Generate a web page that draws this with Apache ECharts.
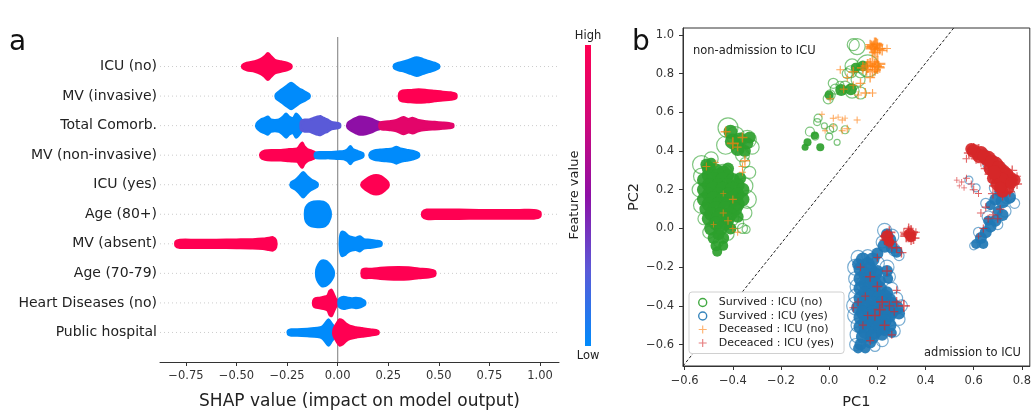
<!DOCTYPE html>
<html>
<head>
<meta charset="utf-8">
<script src="https://cdn.jsdelivr.net/npm/echarts@6/dist/echarts.min.js"></script>
<style>
html, body { margin: 0; padding: 0; background: #fff; }
#chart { width: 1034px; height: 415px; }
</style>
</head>
<body>
<div id="chart"></div>
<script>
// ---- panel a: SHAP summary (features top to bottom)
const features = ['ICU (no)', 'MV (invasive)', 'Total Comorb.', 'MV (non-invasive)', 'ICU (yes)',
  'Age (80+)', 'MV (absent)', 'Age (70-79)', 'Heart Diseases (no)', 'Public hospital']
const shapTicks = [-0.75, -0.5, -0.25, 0, 0.25, 0.5, 0.75, 1.0]

// swarm outline of each feature: [feature value 0..1, [[shap value, half spread in rows], ...]]
const swarmIcuNo = [
  [1, [[-0.47, 0.05], [-0.45, 0.12], [-0.41, 0.17], [-0.38, 0.25], [-0.36, 0.35], [-0.345, 0.45], [-0.33, 0.35], [-0.31, 0.22], [-0.28, 0.17], [-0.25, 0.12], [-0.23, 0.05]]],
  [0, [[0.28, 0.06], [0.30, 0.12], [0.33, 0.17], [0.36, 0.24], [0.39, 0.31], [0.42, 0.25], [0.45, 0.18], [0.48, 0.12], [0.50, 0.05]]]
]
const swarmMvInvasive = [
  [0, [[-0.305, 0.06], [-0.29, 0.15], [-0.27, 0.25], [-0.25, 0.35], [-0.23, 0.44], [-0.21, 0.35], [-0.19, 0.25], [-0.17, 0.18], [-0.155, 0.12], [-0.14, 0.05]]],
  [1, [[0.305, 0.1], [0.32, 0.18], [0.36, 0.2], [0.40, 0.22], [0.44, 0.2], [0.48, 0.17], [0.52, 0.14], [0.56, 0.12], [0.585, 0.07]]]
]
const swarmComorb = [
  [0, [[-0.40, 0.07], [-0.38, 0.2], [-0.36, 0.25], [-0.345, 0.3], [-0.33, 0.2], [-0.31, 0.18], [-0.29, 0.2], [-0.27, 0.3], [-0.255, 0.4], [-0.24, 0.3], [-0.22, 0.25], [-0.205, 0.4], [-0.19, 0.3], [-0.175, 0.15]]],
  [0.25, [[-0.18, 0.15], [-0.16, 0.2], [-0.14, 0.2], [-0.12, 0.25], [-0.10, 0.3], [-0.085, 0.32], [-0.07, 0.26], [-0.05, 0.2], [-0.03, 0.12], [0.01, 0.06]]],
  [0.5, [[0.05, 0.08], [0.07, 0.18], [0.09, 0.25], [0.11, 0.3], [0.14, 0.28], [0.17, 0.22], [0.19, 0.15], [0.21, 0.1]]],
  [0.85, [[0.21, 0.1], [0.25, 0.14], [0.29, 0.18], [0.325, 0.28], [0.35, 0.22], [0.37, 0.26], [0.40, 0.18], [0.44, 0.14], [0.48, 0.12], [0.52, 0.1], [0.55, 0.08], [0.57, 0.05]]]
]
const swarmMvNonInvasive = [
  [1, [[-0.38, 0.07], [-0.36, 0.15], [-0.32, 0.17], [-0.28, 0.17], [-0.24, 0.2], [-0.2, 0.22], [-0.185, 0.35], [-0.175, 0.42], [-0.165, 0.3], [-0.15, 0.2], [-0.13, 0.15], [-0.11, 0.08]]],
  [0, [[-0.11, 0.08], [-0.08, 0.1], [-0.04, 0.1], [0.0, 0.12], [0.03, 0.13], [0.05, 0.2], [0.063, 0.3], [0.075, 0.2], [0.1, 0.13], [0.125, 0.06]]],
  [0, [[0.16, 0.07], [0.18, 0.15], [0.21, 0.18], [0.24, 0.2], [0.27, 0.22], [0.29, 0.28], [0.31, 0.22], [0.34, 0.18], [0.37, 0.14], [0.40, 0.06]]]
]
const swarmIcuYes = [
  [0, [[-0.23, 0.07], [-0.21, 0.15], [-0.19, 0.28], [-0.17, 0.42], [-0.15, 0.28], [-0.13, 0.17], [-0.11, 0.1], [-0.10, 0.05]]],
  [1, [[0.12, 0.06], [0.14, 0.18], [0.165, 0.28], [0.19, 0.32], [0.215, 0.28], [0.235, 0.18], [0.25, 0.07]]]
]
const swarmAge80 = [
  [0, [[-0.16, 0.15], [-0.15, 0.3], [-0.13, 0.4], [-0.10, 0.43], [-0.07, 0.42], [-0.05, 0.32], [-0.04, 0.18], [-0.035, 0.08]]],
  [1, [[0.42, 0.08], [0.44, 0.15], [0.5, 0.15], [0.6, 0.15], [0.7, 0.14], [0.8, 0.14], [0.9, 0.14], [0.97, 0.14], [1.0, 0.08]]]
]
const swarmMvAbsent = [
  [1, [[-0.80, 0.08], [-0.78, 0.13], [-0.7, 0.13], [-0.6, 0.13], [-0.5, 0.14], [-0.42, 0.15], [-0.37, 0.17], [-0.34, 0.2], [-0.32, 0.22], [-0.305, 0.12]]],
  [0, [[0.012, 0.2], [0.02, 0.4], [0.035, 0.38], [0.05, 0.28], [0.07, 0.22], [0.09, 0.2], [0.11, 0.25], [0.13, 0.15], [0.16, 0.13], [0.19, 0.1], [0.215, 0.06]]]
]
const swarmAge70 = [
  [0, [[-0.105, 0.12], [-0.095, 0.3], [-0.08, 0.42], [-0.06, 0.42], [-0.045, 0.35], [-0.03, 0.22], [-0.02, 0.08]]],
  [1, [[0.12, 0.1], [0.13, 0.15], [0.17, 0.15], [0.21, 0.18], [0.25, 0.2], [0.3, 0.21], [0.35, 0.2], [0.4, 0.16], [0.45, 0.13], [0.48, 0.08]]]
]
const swarmHeart = [
  [1, [[-0.12, 0.08], [-0.11, 0.15], [-0.09, 0.17], [-0.07, 0.2], [-0.05, 0.25], [-0.04, 0.4], [-0.03, 0.44], [-0.02, 0.3], [-0.01, 0.15], [-0.003, 0.08]]],
  [0, [[0.005, 0.08], [0.01, 0.15], [0.03, 0.2], [0.05, 0.17], [0.07, 0.15], [0.09, 0.17], [0.11, 0.15], [0.125, 0.1], [0.135, 0.05]]]
]
const swarmPublic = [
  [0, [[-0.245, 0.06], [-0.23, 0.1], [-0.2, 0.1], [-0.15, 0.12], [-0.1, 0.15], [-0.075, 0.2], [-0.06, 0.32], [-0.045, 0.44], [-0.03, 0.3], [-0.015, 0.15]]],
  [1, [[-0.02, 0.1], [-0.005, 0.3], [0.01, 0.44], [0.025, 0.4], [0.04, 0.3], [0.06, 0.22], [0.09, 0.17], [0.12, 0.14], [0.16, 0.1], [0.2, 0.05]]]
]

// ---- panel b: PCA scatter, points are [PC1, PC2, marker weight]
const pcTicksX = [-0.6, -0.4, -0.2, 0, 0.2, 0.4, 0.6, 0.8]
const pcTicksY = [-0.6, -0.4, -0.2, 0, 0.2, 0.4, 0.6, 0.8, 1.0]
const separatorLine = [[-0.607, -0.711], [0.517, 1.036]]

const survivedNo = [
  [-0.53, 0.33, 7], [-0.49, 0.36, 5], [-0.53, 0.27, 6], [-0.54, 0.20, 5], [-0.53, 0.12, 6], [-0.52, 0.05, 4],
  [-0.50, -0.02, 4], [-0.46, -0.07, 3], [-0.42, -0.03, 4], [-0.38, 0.03, 4], [-0.36, 0.00, 3], [-0.345, -0.005, 2],
  [-0.35, 0.08, 5], [-0.34, 0.15, 7], [-0.35, 0.22, 6], [-0.33, 0.29, 4], [-0.35, 0.34, 3], [-0.42, 0.52, 8],
  [-0.39, 0.48, 7], [-0.34, 0.46, 7], [-0.32, 0.42, 5], [-0.43, 0.43, 7], [-0.36, 0.38, 5], [-0.44, 0.28, 8],
  [-0.46, 0.12, 9], [-0.40, 0.18, 8], [-0.48, 0.22, 7], [-0.41, 0.05, 6],
  [0.116, 0.94, 6], [0.10, 0.95, 4], [0.095, 0.84, 5], [0.09, 0.81, 4], [0.16, 0.84, 9], [0.12, 0.77, 5],
  [0.066, 0.73, 4], [0.095, 0.71, 5], [0.017, 0.75, 3], [0.025, 0.72, 3], [0.004, 0.69, 3], [-0.004, 0.67, 3],
  [0.045, 0.74, 2], [0.13, 0.70, 4], [0.075, 0.80, 3], [0.13, 0.81, 4],
  [-0.046, 0.57, 2], [-0.05, 0.55, 1.5], [0.017, 0.52, 2], [0.004, 0.51, 1.5], [-0.08, 0.50, 2.5], [-0.058, 0.475, 1.5],
  [0.0, 0.475, 1.5], [0.033, 0.445, 1], [0.066, 0.51, 2], [-0.02, 0.53, 1]
]
const survivedNoCore = [
  [-0.50, 0.31, 4], [-0.47, 0.30, 4], [-0.44, 0.29, 4], [-0.42, 0.31, 3],
  [-0.50, 0.275, 4], [-0.46, 0.275, 4], [-0.42, 0.275, 3],
  [-0.52, 0.25, 4], [-0.48, 0.25, 5], [-0.44, 0.25, 5], [-0.40, 0.25, 4], [-0.37, 0.26, 3],
  [-0.50, 0.225, 4], [-0.46, 0.225, 4], [-0.42, 0.225, 4], [-0.38, 0.225, 4],
  [-0.52, 0.20, 4], [-0.48, 0.20, 5], [-0.44, 0.20, 5], [-0.40, 0.20, 5], [-0.36, 0.20, 4],
  [-0.50, 0.175, 4], [-0.46, 0.175, 4], [-0.42, 0.175, 4], [-0.38, 0.175, 4],
  [-0.52, 0.15, 4], [-0.48, 0.15, 5], [-0.44, 0.15, 5], [-0.40, 0.15, 5], [-0.36, 0.15, 4],
  [-0.50, 0.125, 4], [-0.46, 0.125, 4], [-0.42, 0.125, 4], [-0.38, 0.125, 4],
  [-0.51, 0.10, 4], [-0.47, 0.10, 5], [-0.43, 0.10, 5], [-0.39, 0.10, 4],
  [-0.49, 0.075, 4], [-0.45, 0.075, 4], [-0.41, 0.075, 4],
  [-0.50, 0.05, 4], [-0.46, 0.05, 5], [-0.42, 0.05, 4], [-0.38, 0.06, 3],
  [-0.47, 0.025, 4], [-0.43, 0.025, 4],
  [-0.49, 0.00, 4], [-0.45, 0.00, 4], [-0.41, 0.00, 3],
  [-0.48, -0.05, 3], [-0.44, -0.05, 3], [-0.46, -0.03, 3], [-0.47, -0.09, 2.5], [-0.44, -0.09, 2], [-0.465, -0.12, 2],
  [-0.41, 0.50, 4], [-0.40, 0.45, 5], [-0.37, 0.46, 4], [-0.34, 0.44, 3], [-0.38, 0.41, 4], [-0.35, 0.40, 3], [-0.33, 0.47, 3],
  [-0.51, 0.33, 3], [-0.49, 0.34, 2],
  [-0.09, 0.445, 1], [-0.037, 0.42, 1], [-0.1, 0.42, 0.5], [-0.06, 0.48, 1], [0.05, 0.715, 3], [0.09, 0.72, 3],
  [0.0, 0.69, 1.5], [0.11, 0.83, 2], [0.14, 0.84, 2.5]
]
const survivedYes = [
  [0.23, -0.01, 5], [0.26, -0.04, 5], [0.22, -0.07, 4], [0.27, -0.11, 4], [0.29, -0.14, 3],
  [0.12, -0.15, 5], [0.16, -0.14, 4], [0.11, -0.20, 6], [0.11, -0.26, 5], [0.12, -0.30, 6], [0.11, -0.35, 5],
  [0.11, -0.40, 7], [0.11, -0.45, 6], [0.12, -0.50, 5], [0.12, -0.55, 6], [0.11, -0.60, 4],
  [0.24, -0.20, 5], [0.25, -0.25, 4], [0.26, -0.31, 4], [0.28, -0.36, 4], [0.30, -0.40, 4], [0.29, -0.47, 4],
  [0.27, -0.53, 4], [0.22, -0.58, 4], [0.19, -0.61, 3], [0.20, -0.18, 5], [0.15, -0.29, 7], [0.19, -0.44, 8], [0.16, -0.50, 7],
  [0.60, -0.09, 2], [0.62, -0.02, 3], [0.66, 0.06, 4], [0.70, 0.02, 3], [0.73, 0.09, 4], [0.74, 0.17, 6],
  [0.69, 0.21, 4], [0.77, 0.13, 3], [0.70, 0.30, 7], [0.67, 0.34, 6], [0.64, 0.38, 4], [0.58, 0.25, 2],
  [0.61, 0.21, 2], [0.65, 0.13, 3]
]
const survivedYesCore = [
  [0.24, -0.03, 3], [0.25, -0.06, 4], [0.23, -0.09, 4], [0.26, -0.10, 3], [0.28, -0.12, 3],
  [0.14, -0.16, 4], [0.18, -0.16, 4], [0.2, -0.13, 3], [0.16, -0.185, 4], [0.12, -0.185, 3],
  [0.13, -0.21, 4], [0.17, -0.21, 4], [0.2, -0.22, 3], [0.24, -0.22, 3],
  [0.15, -0.235, 4], [0.19, -0.235, 4],
  [0.13, -0.26, 4], [0.17, -0.26, 4], [0.21, -0.27, 3], [0.245, -0.26, 2],
  [0.15, -0.285, 4], [0.19, -0.285, 4],
  [0.13, -0.31, 4], [0.17, -0.31, 5], [0.21, -0.31, 4], [0.24, -0.33, 3],
  [0.15, -0.335, 4], [0.19, -0.335, 4], [0.23, -0.35, 4],
  [0.13, -0.36, 4], [0.17, -0.36, 5], [0.21, -0.36, 5], [0.25, -0.37, 4],
  [0.14, -0.385, 4], [0.18, -0.385, 4], [0.22, -0.385, 4], [0.26, -0.39, 4],
  [0.12, -0.41, 4], [0.16, -0.41, 5], [0.20, -0.41, 5], [0.24, -0.41, 5], [0.28, -0.41, 4],
  [0.14, -0.435, 4], [0.18, -0.435, 4], [0.22, -0.435, 4], [0.26, -0.43, 4],
  [0.13, -0.46, 4], [0.17, -0.46, 5], [0.21, -0.46, 5], [0.25, -0.45, 4], [0.29, -0.44, 3],
  [0.15, -0.485, 4], [0.19, -0.485, 4], [0.23, -0.48, 4],
  [0.13, -0.51, 4], [0.17, -0.51, 5], [0.21, -0.51, 5], [0.25, -0.50, 4],
  [0.15, -0.535, 4], [0.19, -0.535, 4], [0.23, -0.525, 3],
  [0.14, -0.56, 4], [0.18, -0.56, 4], [0.22, -0.55, 3], [0.26, -0.54, 2],
  [0.13, -0.60, 3], [0.17, -0.59, 3], [0.12, -0.62, 2], [0.15, -0.62, 2],
  [0.61, -0.08, 2], [0.63, -0.05, 3], [0.65, -0.02, 3], [0.67, 0.01, 3], [0.69, 0.04, 3], [0.72, 0.07, 3],
  [0.64, -0.08, 2], [0.70, 0.09, 2], [0.66, 0.04, 2],
  [0.69, 0.15, 3], [0.72, 0.14, 4], [0.75, 0.16, 3], [0.71, 0.19, 3], [0.67, 0.12, 2]
]
const deceasedNo = [
  [0.19, 0.945, 6], [0.18, 0.93, 5], [0.20, 0.95, 4], [0.21, 0.93, 4], [0.19, 0.91, 4], [0.22, 0.92, 3],
  [0.24, 0.93, 2], [0.17, 0.95, 3], [0.185, 0.935, 5], [0.195, 0.955, 4], [0.2, 0.925, 5], [0.175, 0.94, 4],
  [0.16, 0.84, 5], [0.2, 0.85, 6], [0.18, 0.86, 5], [0.19, 0.82, 4], [0.14, 0.83, 4], [0.1, 0.81, 3],
  [0.19, 0.84, 5], [0.17, 0.85, 4], [0.2, 0.835, 5], [0.155, 0.82, 4], [0.18, 0.81, 4],
  [0.21, 0.83, 3], [0.17, 0.78, 3], [0.13, 0.75, 3], [0.15, 0.70, 3], [0.18, 0.70, 2], [0.12, 0.69, 2],
  [0.075, 0.78, 2], [0.046, 0.82, 2], [0.004, 0.67, 2], [0.1, 0.74, 2], [0.06, 0.72, 2],
  [-0.03, 0.59, 1], [0.017, 0.57, 1.5], [0.037, 0.575, 1], [0.054, 0.56, 1.5], [0.066, 0.57, 1],
  [0.116, 0.56, 1.5], [-0.017, 0.505, 1], [0.054, 0.505, 1.5], [0.075, 0.515, 2], [0.017, 0.53, 1],
  [-0.43, 0.50, 3], [-0.40, 0.44, 4], [-0.36, 0.47, 3], [-0.38, 0.42, 2], [-0.35, 0.35, 3], [-0.36, 0.32, 2],
  [-0.36, 0.29, 1.5], [-0.40, 0.15, 2], [-0.44, 0.08, 1.5], [-0.42, 0.04, 2], [-0.40, 0.0, 1.5],
  [-0.38, -0.02, 1.5], [-0.51, 0.32, 2], [-0.47, 0.34, 1], [-0.44, 0.18, 1], [-0.48, 0.02, 1]
]
const deceasedYes = [
  [0.33, -0.03, 6], [0.34, -0.02, 5], [0.32, -0.04, 4], [0.35, -0.05, 4], [0.33, 0.0, 3], [0.34, -0.06, 3],
  [0.31, -0.02, 2], [0.36, -0.02, 2],
  [0.24, -0.04, 5], [0.25, -0.02, 4], [0.23, -0.06, 3], [0.26, -0.07, 3], [0.28, -0.10, 3], [0.30, -0.125, 3], [0.26, -0.10, 2],
  [0.17, -0.25, 3], [0.20, -0.30, 3], [0.15, -0.35, 2], [0.22, -0.38, 4], [0.25, -0.40, 3], [0.28, -0.38, 3],
  [0.31, -0.40, 4], [0.19, -0.45, 3], [0.14, -0.50, 2], [0.23, -0.50, 3], [0.12, -0.38, 2], [0.26, -0.55, 2],
  [0.17, -0.58, 2], [0.28, -0.32, 2], [0.24, -0.22, 3], [0.13, -0.20, 2], [0.20, -0.15, 2], [0.1, -0.41, 2],
  [0.27, -0.43, 2], [0.21, -0.42, 4], [0.16, -0.45, 2],
  [0.60, 0.41, 4], [0.58, 0.39, 3], [0.62, 0.40, 5], [0.64, 0.38, 4], [0.66, 0.35, 6], [0.68, 0.33, 5],
  [0.70, 0.31, 5], [0.72, 0.29, 4], [0.74, 0.27, 5], [0.76, 0.25, 4], [0.78, 0.23, 3], [0.70, 0.26, 6],
  [0.73, 0.22, 5], [0.69, 0.22, 4], [0.67, 0.28, 4], [0.65, 0.31, 3], [0.75, 0.19, 3], [0.72, 0.17, 3],
  [0.68, 0.18, 3], [0.76, 0.30, 3], [0.78, 0.27, 2], [0.57, 0.36, 2], [0.61, 0.36, 3], [0.63, 0.34, 2],
  [0.53, 0.25, 1], [0.55, 0.24, 1], [0.57, 0.26, 1.5], [0.59, 0.23, 1.5], [0.60, 0.20, 2], [0.62, 0.18, 1.5],
  [0.56, 0.21, 1], [0.54, 0.22, 0.5],
  [0.63, 0.08, 2], [0.66, 0.05, 2], [0.64, 0.0, 2], [0.68, 0.07, 2], [0.62, -0.04, 1], [0.70, 0.05, 2],
  [0.71, 0.10, 2], [0.65, 0.11, 2]
]
const deceasedYesCore = [
  [0.60, 0.40, 4], [0.63, 0.39, 4], [0.66, 0.36, 5], [0.69, 0.33, 5], [0.72, 0.29, 5], [0.75, 0.26, 4],
  [0.67, 0.31, 4], [0.70, 0.28, 5], [0.73, 0.25, 5], [0.70, 0.23, 4], [0.74, 0.21, 4], [0.77, 0.25, 3],
  [0.68, 0.26, 3], [0.72, 0.19, 3], [0.65, 0.36, 3], [0.62, 0.37, 3],
  [0.615, 0.385, 3], [0.645, 0.37, 4], [0.675, 0.345, 4], [0.705, 0.315, 4], [0.735, 0.28, 4],
  [0.715, 0.255, 4], [0.755, 0.235, 3], [0.685, 0.29, 4], [0.71, 0.21, 3], [0.59, 0.41, 3],
  [0.24, -0.04, 3], [0.25, -0.07, 2], [0.335, -0.03, 3], [0.34, -0.045, 2]
]

const font = '"DejaVu Sans", sans-serif'
const shapStops = ['#008bfb', '#5a5ad8', '#8e0fa6', '#d0087a', '#ff0052']
const green = '#2ca02c'
const blue = '#1f77b4'
const orange = '#ff7f0e'
const red = '#d62728'
const plusPath = 'path://M8.6,0h2.8v8.6h8.6v2.8h-8.6v8.6h-2.8v-8.6h-8.6v-2.8h8.6z'

const swarmRows = [swarmIcuNo, swarmMvInvasive, swarmComorb, swarmMvNonInvasive, swarmIcuYes,
  swarmAge80, swarmMvAbsent, swarmAge70, swarmHeart, swarmPublic]
const swarms = []
swarmRows.forEach((row, i) => {
  row.forEach(([fv, pts]) => swarms.push({ row: features.length - 1 - i, fv, pts }))
})
const rowValues = features.map((f, i) => features.length - 1 - i)

const minus = (v, d) => (v < 0 ? '\u2212' : '') + Math.abs(v).toFixed(d)
const markerSize = v => 4 + 2 * v[2]

function ring(name, data, color) {
  return {
    type: 'scatter', name, data, xAxisIndex: 1, yAxisIndex: 1, symbol: 'circle', symbolSize: markerSize,
    itemStyle: { color: 'rgba(0,0,0,0)', borderColor: color, borderWidth: 1.2, opacity: 0.6 },
    silent: true
  }
}
function core(name, data, color) {
  return {
    type: 'scatter', name, data, xAxisIndex: 1, yAxisIndex: 1, symbol: 'circle', symbolSize: v => 6 + 2 * v[2],
    itemStyle: { color, opacity: 0.92 }, silent: true
  }
}
function plus(name, data, color) {
  return {
    type: 'scatter', name, data, xAxisIndex: 1, yAxisIndex: 1, symbol: plusPath, symbolSize: markerSize,
    itemStyle: { color, opacity: 0.7 }, silent: true
  }
}

const chart = echarts.init(document.getElementById('chart'))
chart.setOption({
  animation: false,
  backgroundColor: '#fff',
  textStyle: { fontFamily: font },
  grid: [
    { left: 160, top: 37, width: 399, height: 328 },
    { left: 683, top: 28, width: 348, height: 338, show: true, borderColor: '#333', borderWidth: 1 }
  ],
  xAxis: [
    {
      gridIndex: 0, type: 'value', min: -0.878, max: 1.094,
      axisLine: { show: true, onZero: false, lineStyle: { color: '#333' } },
      axisTick: { show: true, length: 4, customValues: shapTicks, lineStyle: { color: '#333' } },
      axisLabel: { customValues: shapTicks, formatter: v => minus(v, 2), margin: 8, fontSize: 11.5, color: '#333', fontFamily: font },
      splitLine: { show: false },
      name: 'SHAP value (impact on model output)', nameLocation: 'middle', nameGap: 31,
      nameTextStyle: { fontSize: 17, color: '#222', fontFamily: font }
    },
    {
      gridIndex: 1, type: 'value', min: -0.607, max: 0.833,
      axisLine: { show: true, onZero: false, lineStyle: { color: '#333' } },
      axisTick: { show: true, length: 4, customValues: pcTicksX, lineStyle: { color: '#333' } },
      axisLabel: { customValues: pcTicksX, formatter: v => minus(v, 1), margin: 9, fontSize: 11.5, color: '#333', fontFamily: font },
      splitLine: { show: false },
      name: 'PC1', nameLocation: 'middle', nameGap: 29,
      nameTextStyle: { fontSize: 14.5, color: '#222', fontFamily: font }
    }
  ],
  yAxis: [
    {
      gridIndex: 0, type: 'value', min: -1, max: 10,
      axisLine: { show: false }, axisTick: { show: false }, splitLine: { show: false },
      axisLabel: { customValues: rowValues, formatter: v => features[features.length - 1 - v], margin: 3, fontSize: 14, color: '#222', fontFamily: font }
    },
    {
      gridIndex: 1, type: 'value', min: -0.711, max: 1.036,
      axisLine: { show: true, onZero: false, lineStyle: { color: '#333' } },
      axisTick: { show: true, length: 4, customValues: pcTicksY, lineStyle: { color: '#333' } },
      axisLabel: { customValues: pcTicksY, formatter: v => minus(v, 1), margin: 9, fontSize: 11.5, color: '#333', fontFamily: font },
      splitLine: { show: false },
      name: 'PC2', nameLocation: 'middle', nameGap: 27,
      nameTextStyle: { fontSize: 14.5, color: '#222', fontFamily: font }
    }
  ],
  legend: {
    orient: 'vertical', left: 689, top: 292, padding: [5, 10, 5, 9], itemGap: 2.5,
    itemWidth: 22, itemHeight: 8, backgroundColor: '#fff', borderColor: '#d0d0d0', borderWidth: 1, borderRadius: 3,
    selectedMode: false,
    textStyle: { fontSize: 11, color: '#222', fontFamily: font },
    data: [
      { name: 'Survived : ICU (no)', icon: 'circle', itemStyle: { color: 'rgba(0,0,0,0)', borderColor: green, borderWidth: 1.4, opacity: 0.9 } },
      { name: 'Survived : ICU (yes)', icon: 'circle', itemStyle: { color: 'rgba(0,0,0,0)', borderColor: blue, borderWidth: 1.4, opacity: 0.9 } },
      { name: 'Deceased : ICU (no)', icon: plusPath, itemStyle: { color: orange, opacity: 0.6 } },
      { name: 'Deceaced : ICU (yes)', icon: plusPath, itemStyle: { color: red, opacity: 0.6 } }
    ]
  },
  graphic: [
    { type: 'text', x: 9, y: 29, style: { text: 'a', font: '28px ' + font, fill: '#111', verticalAlign: 'alphabetic' } },
    { type: 'text', x: 632, y: 29, style: { text: 'b', font: '28px ' + font, fill: '#111', verticalAlign: 'alphabetic' } },
    {
      type: 'rect', shape: { x: 585, y: 45, width: 6, height: 301 },
      style: {
        fill: new echarts.graphic.LinearGradient(0, 0, 0, 1,
          shapStops.slice().reverse().map((c, i) => ({ offset: i / (shapStops.length - 1), color: c })))
      }
    },
    { type: 'text', x: 588, y: 36, style: { text: 'High', font: '11.5px ' + font, fill: '#222', align: 'center', verticalAlign: 'middle' } },
    { type: 'text', x: 588, y: 356, style: { text: 'Low', font: '11.5px ' + font, fill: '#222', align: 'center', verticalAlign: 'middle' } },
    { type: 'text', x: 575, y: 195, rotation: Math.PI / 2, style: { text: 'Feature value', font: '13px ' + font, fill: '#222', align: 'center', verticalAlign: 'middle' } },
    { type: 'text', x: 693, y: 51, style: { text: 'non-admission to ICU', font: '11.5px ' + font, fill: '#222', verticalAlign: 'middle' } },
    { type: 'text', x: 1021, y: 353, style: { text: 'admission to ICU', font: '11.5px ' + font, fill: '#222', align: 'right', verticalAlign: 'middle' } }
  ],
  series: [
    {
      type: 'line', xAxisIndex: 0, yAxisIndex: 0, data: [[0, -1], [0, 10]], symbol: 'none', silent: true,
      lineStyle: { color: '#999', width: 1.3 }, z: 1
    },
    {
      type: 'custom', xAxisIndex: 0, yAxisIndex: 0, silent: true, z: 1,
      data: rowValues.map(r => [0, r]),
      renderItem(params, api) {
        const cs = params.coordSys
        const y = api.coord([0, api.value(1)])[1]
        return {
          type: 'line', shape: { x1: cs.x, y1: y, x2: cs.x + cs.width, y2: y },
          style: { stroke: '#cccccc', lineWidth: 1, lineDash: [1, 3] }
        }
      }
    },
    {
      type: 'custom', xAxisIndex: 0, yAxisIndex: 0, silent: true, z: 3,
      data: swarms.map(s => [s.pts[0][0], s.row]),
      renderItem(params, api) {
        const s = swarms[params.dataIndex]
        const col = echarts.color.lerp(s.fv, shapStops)
        const top = s.pts.map(p => api.coord([p[0], s.row + p[1]]))
        const bottom = s.pts.slice().reverse().map(p => api.coord([p[0], s.row - p[1]]))
        return {
          type: 'polygon', shape: { points: top.concat(bottom), smooth: 0.3 },
          style: { fill: col, stroke: col, lineWidth: 2.5, lineJoin: 'round' }
        }
      }
    },
    {
      type: 'line', xAxisIndex: 1, yAxisIndex: 1, data: separatorLine, symbol: 'none', silent: true,
      lineStyle: { color: '#222', width: 1, type: [3, 2] }
    },
    ring('Survived : ICU (no)', survivedNo, green),
    core('Survived : ICU (no)', survivedNoCore, green),
    ring('Survived : ICU (yes)', survivedYes, blue),
    core('Survived : ICU (yes)', survivedYesCore, blue),
    plus('Deceased : ICU (no)', deceasedNo, orange),
    plus('Deceaced : ICU (yes)', deceasedYes, red),
    core('Deceaced : ICU (yes)', deceasedYesCore, red)
  ]
})
</script>
</body>
</html>
